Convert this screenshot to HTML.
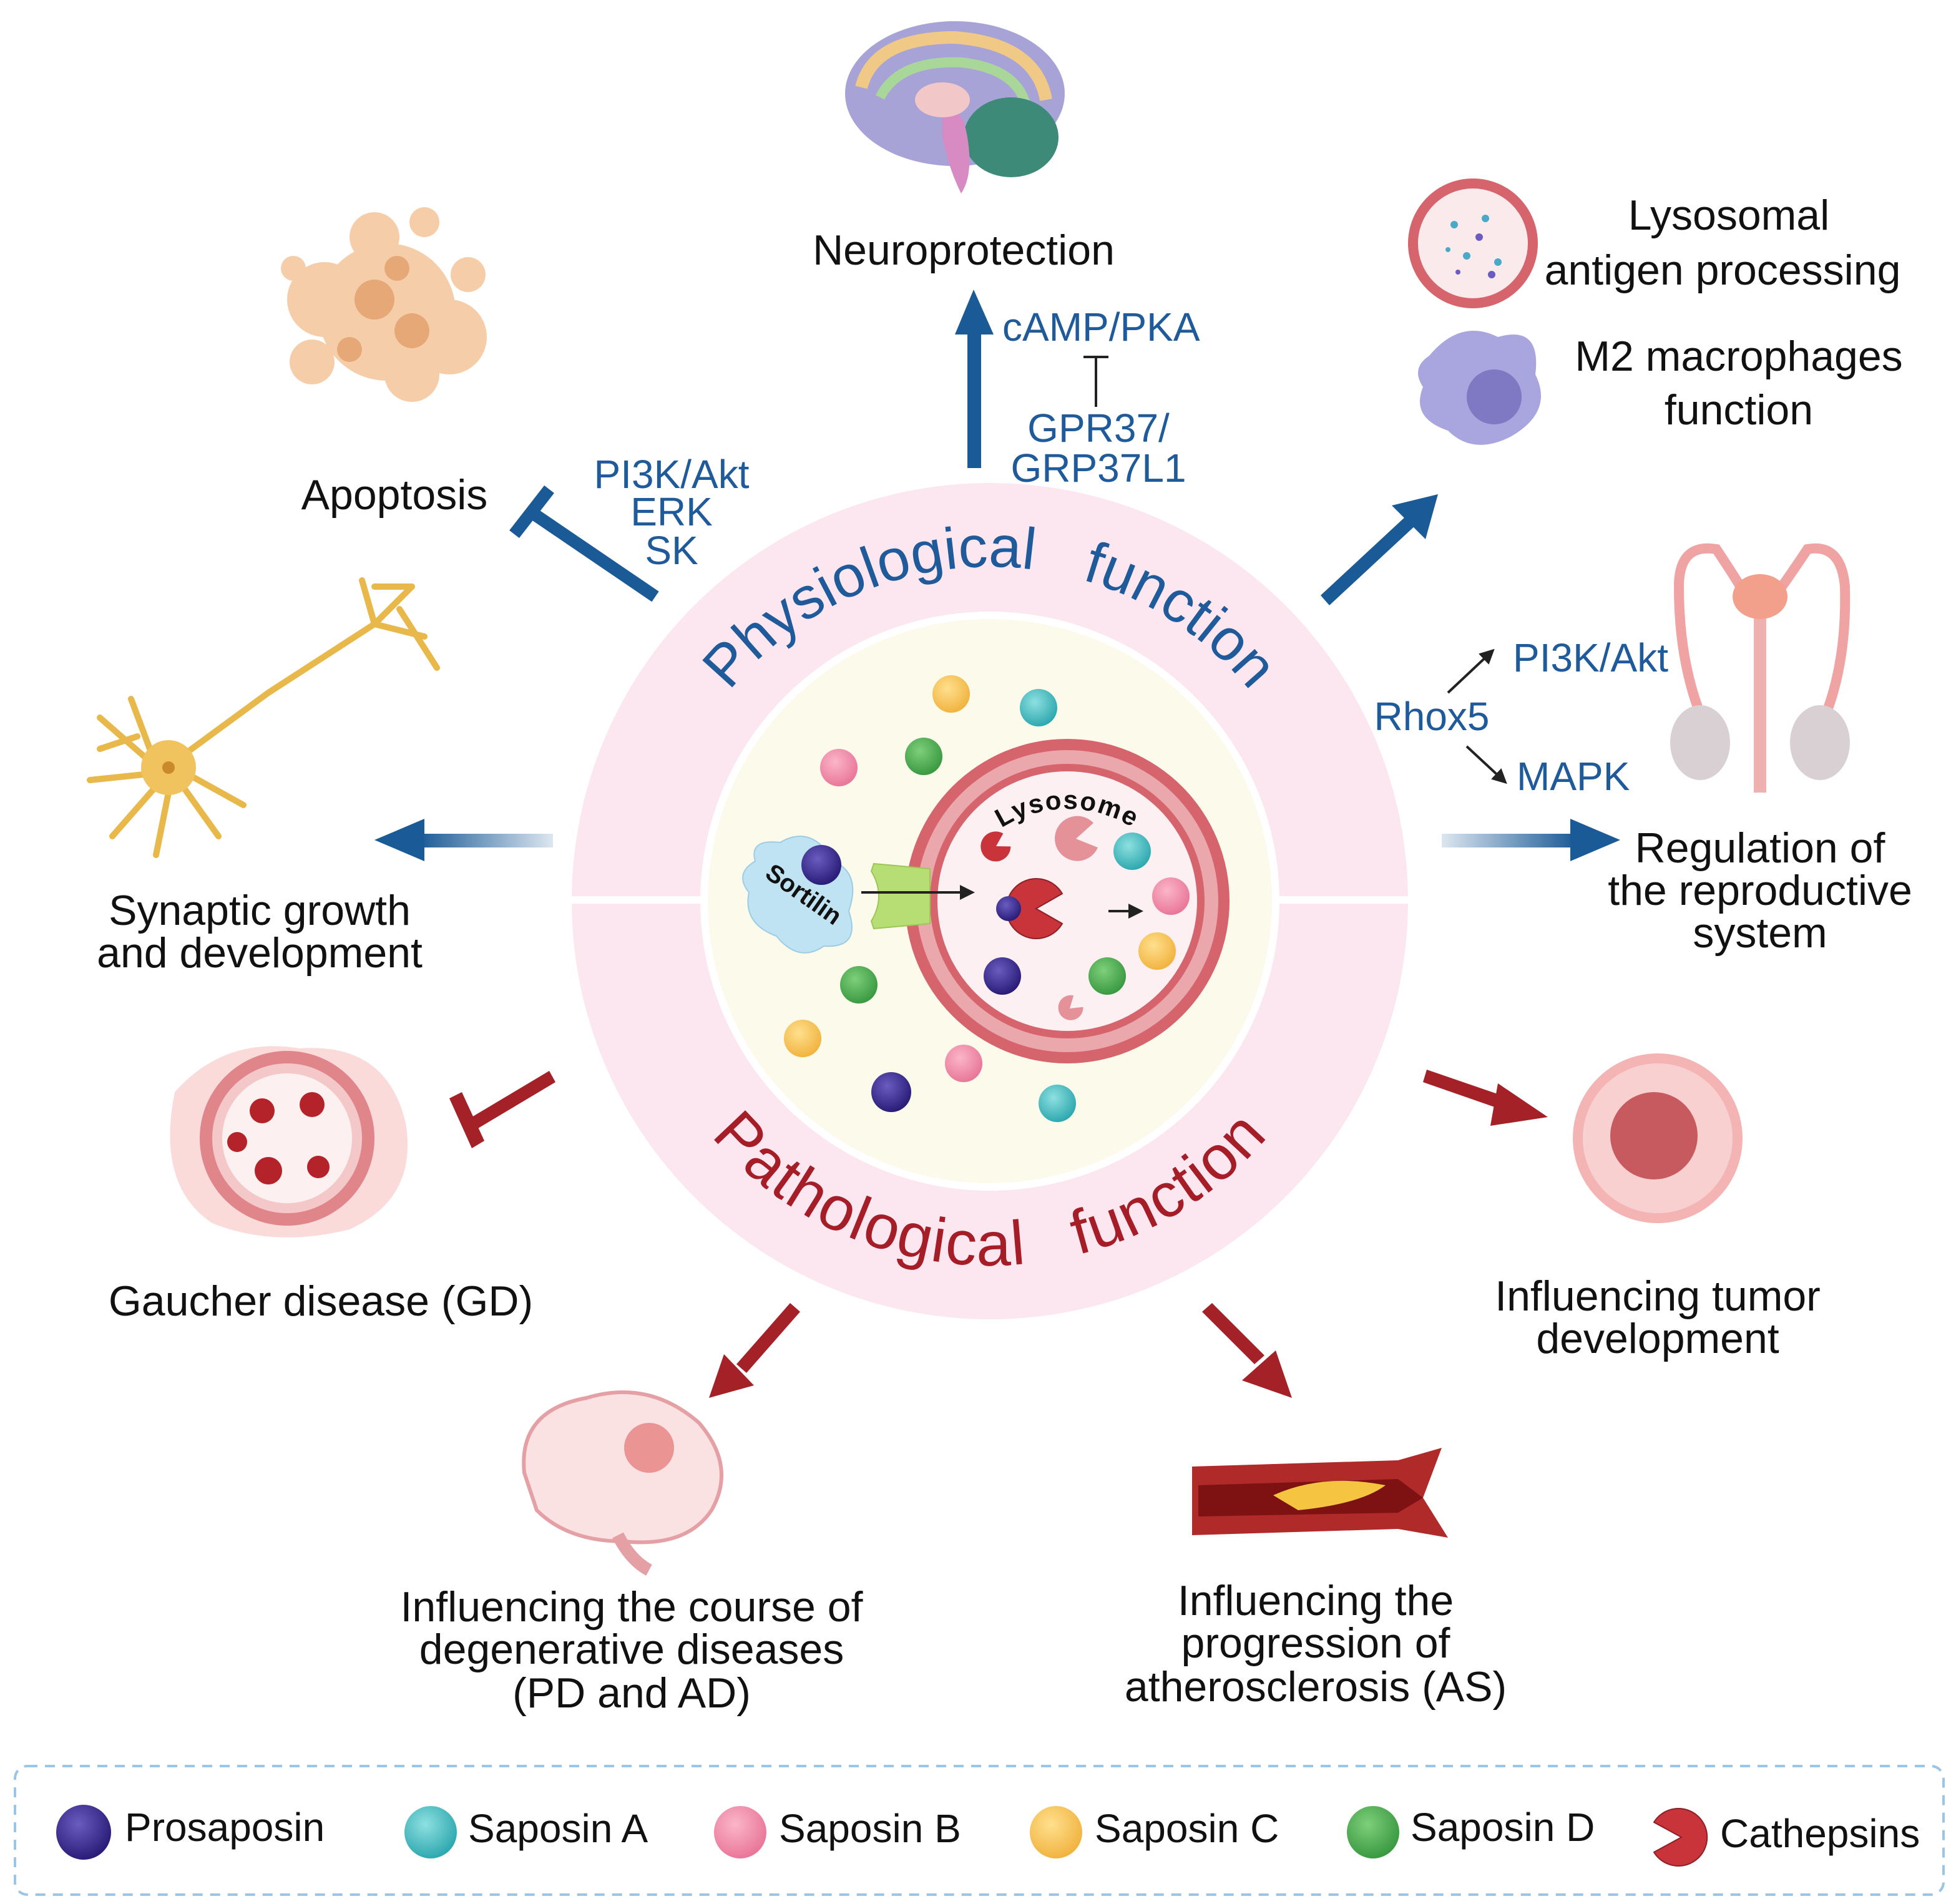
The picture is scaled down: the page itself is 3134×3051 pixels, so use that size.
<!DOCTYPE html>
<html><head><meta charset="utf-8"><style>
html,body{margin:0;padding:0;background:#fff;}
svg{display:block;}
text{font-family:"Liberation Sans",sans-serif;}
</style></head><body>
<svg width="3134" height="3051" viewBox="0 0 1567 1525.5" xmlns="http://www.w3.org/2000/svg">
<defs>
<radialGradient id="gP" cx="40%" cy="35%" r="65%"><stop offset="0" stop-color="#6a5cc0"/><stop offset="1" stop-color="#2a1d78"/></radialGradient>
<radialGradient id="gT" cx="40%" cy="35%" r="65%"><stop offset="0" stop-color="#8ee0e0"/><stop offset="1" stop-color="#2fa9b0"/></radialGradient>
<radialGradient id="gK" cx="40%" cy="35%" r="65%"><stop offset="0" stop-color="#fbb6c8"/><stop offset="1" stop-color="#e9779a"/></radialGradient>
<radialGradient id="gY" cx="40%" cy="35%" r="65%"><stop offset="0" stop-color="#ffe08e"/><stop offset="1" stop-color="#f1b441"/></radialGradient>
<radialGradient id="gG" cx="40%" cy="35%" r="65%"><stop offset="0" stop-color="#7fcf7a"/><stop offset="1" stop-color="#3a9a42"/></radialGradient>
<linearGradient id="fadeL" x1="0" x2="1"><stop offset="0" stop-color="#1a5a96"/><stop offset="1" stop-color="#1a5a96" stop-opacity="0.15"/></linearGradient>
<linearGradient id="fadeR" x1="1" x2="0"><stop offset="0" stop-color="#1a5a96"/><stop offset="1" stop-color="#1a5a96" stop-opacity="0.15"/></linearGradient>
<path id="arcTop" d="M 525 722 A 268 268 0 0 1 1061 722"/>
<path id="arcBot" d="M 501 722 A 292 292 0 0 0 1085 722"/>
<path id="arcLys" d="M 760 722 A 98 98 0 0 1 950 722"/>
<marker id="ab" markerWidth="6" markerHeight="6" refX="3" refY="3" orient="auto"><path d="M0,0 L6,3 L0,6 z" fill="#222"/></marker>
</defs>

<circle cx="793" cy="722" r="335" fill="#fce6f0"/>
<circle cx="793" cy="722" r="232" fill="#fff" />
<circle cx="793" cy="722" r="226" fill="#fcfaea"/>
<rect x="455" y="718" width="110" height="6" fill="#fff"/>
<rect x="1021" y="718" width="110" height="6" fill="#fff"/>

<text font-size="47" fill="#1f5a9a" word-spacing="26"><textPath href="#arcTop" startOffset="50%" text-anchor="middle">Physiological function</textPath></text>
<text font-size="50" fill="#a51d26" word-spacing="26" letter-spacing="1"><textPath href="#arcBot" startOffset="50%" text-anchor="middle">Pathological function</textPath></text>

<circle cx="855" cy="722" r="130" fill="#d5646c"/>
<circle cx="855" cy="722" r="121" fill="#eaa8ad"/>
<circle cx="855" cy="722" r="110" fill="#d5646c"/>
<circle cx="855" cy="722" r="104" fill="#fcf0f2"/>
<text font-size="21" font-weight="bold" fill="#111" letter-spacing="1"><textPath href="#arcLys" startOffset="50%" text-anchor="middle">Lysosome</textPath></text>

<path d="M605 690 Q600 672 625 675 Q650 660 668 690 Q690 700 680 730 Q690 760 660 758 Q640 772 622 750 Q595 740 600 715 Q588 700 605 690z" fill="#bfe3f2" stroke="#9ccde4" stroke-width="1"/>
<text x="640" y="722" font-size="20" font-weight="bold" fill="#111" transform="rotate(35 640 722)" text-anchor="middle">Sortilin</text>
<circle cx="658" cy="693" r="16" fill="url(#gP)"/>
<path d="M698 698 L700 692 L745 696 L745 715 L745 740 L700 744 L698 738 Q710 718 698 698z" fill="#b7de74" stroke="#9cc756" stroke-width="1"/>
<line x1="690" y1="715" x2="775" y2="715" stroke="#222" stroke-width="2" marker-end="url(#ab)"/>
<line x1="888" y1="730" x2="910" y2="730" stroke="#222" stroke-width="2" marker-end="url(#ab)"/>

<g>
<circle cx="762" cy="556" r="15" fill="url(#gY)"/>
<circle cx="832" cy="567" r="15" fill="url(#gT)"/>
<circle cx="672" cy="615" r="15" fill="url(#gK)"/>
<circle cx="740" cy="606" r="15" fill="url(#gG)"/>
<circle cx="907" cy="682" r="15" fill="url(#gT)"/>
<circle cx="938" cy="718" r="15" fill="url(#gK)"/>
<circle cx="927" cy="762" r="15" fill="url(#gY)"/>
<circle cx="887" cy="782" r="15" fill="url(#gG)"/>
<circle cx="803" cy="782" r="15" fill="url(#gP)"/>
<circle cx="688" cy="789" r="15" fill="url(#gG)"/>
<circle cx="643" cy="832" r="15" fill="url(#gY)"/>
<circle cx="772" cy="852" r="15" fill="url(#gK)"/>
<circle cx="714" cy="875" r="16" fill="url(#gP)"/>
<circle cx="847" cy="884" r="15" fill="url(#gT)"/>
</g>
<path d="M830 728 L851 716 A24 24 0 1 0 851 740 Z" fill="#c9343b" stroke="#8e1f25" stroke-width="1"/>
<circle cx="808" cy="728" r="10" fill="url(#gP)"/>
<path d="M798 678 L808 672 A12 12 0 1 0 808 684 Z" fill="#c9343b" transform="rotate(-30 798 678)"/>
<path d="M862 672 L878 662 A18 18 0 1 0 878 682 Z" fill="#e49198" transform="rotate(-10 862 672)"/>
<path d="M857 808 L866 802 A10 10 0 1 0 866 814 Z" fill="#e49198" transform="rotate(-40 857 808)"/>

<g fill="#1a5a96" stroke="none">
<rect x="775" y="262" width="11" height="113" fill="#1a5a96"/>
<path d="M765 268 L780 232 L796 268 Z"/>
<path d="M1058 477 L1128 412 L1135 420 L1065 485 Z"/>
<path d="M1115 405 L1152 396 L1142 432 Z"/>
<rect x="335" y="668" width="108" height="11" fill="url(#fadeL)"/>
<path d="M340 656 L300 673 L340 690 Z"/>
<rect x="1155" y="668" width="108" height="11" fill="url(#fadeR)"/>
<path d="M1258 656 L1298 673 L1258 690 Z"/>
</g>
<line x1="525" y1="478" x2="428" y2="412" stroke="#1a5a96" stroke-width="10"/>
<line x1="412" y1="428" x2="440" y2="392" stroke="#1a5a96" stroke-width="10"/>
<line x1="878" y1="326" x2="878" y2="286" stroke="#222" stroke-width="2"/>
<line x1="868" y1="286" x2="888" y2="286" stroke="#222" stroke-width="2"/>
<line x1="1160" y1="555" x2="1193" y2="524" stroke="#222" stroke-width="2" marker-end="url(#ab)"/>
<line x1="1175" y1="598" x2="1203" y2="624" stroke="#222" stroke-width="2" marker-end="url(#ab)"/>

<g fill="#a52128">
<path d="M440 858 L378 895 L383 904 L445 867 Z"/>
<path d="M360 880 L378 920 L388 914 L370 875 Z"/>
<path d="M1143 857 L1210 880 L1206 890 L1140 867 Z"/>
<path d="M1200 868 L1240 895 L1194 902 Z"/>
<path d="M633 1044 L590 1093 L598 1100 L641 1051 Z"/>
<path d="M580 1085 L568 1120 L604 1110 Z"/>
<path d="M963 1051 L1005 1093 L1013 1086 L971 1044 Z"/>
<path d="M995 1106 L1035 1120 L1022 1082 Z"/>
</g>

<ellipse cx="765" cy="75" rx="88" ry="58" fill="#a7a3d6"/>
<path d="M690 70 Q700 30 765 30 Q830 35 838 80" fill="none" stroke="#f0c986" stroke-width="10"/>
<path d="M705 78 Q720 48 770 50 Q815 55 822 85" fill="none" stroke="#a9d79a" stroke-width="8"/>
<ellipse cx="810" cy="110" rx="38" ry="32" fill="#3d8a78"/>
<path d="M755 90 Q770 80 775 110 Q780 140 770 155 Q760 135 755 110z" fill="#d78bc2"/>
<ellipse cx="755" cy="80" rx="22" ry="14" fill="#f2c7c7"/>
<g fill="#f4c9a0" opacity="0.9">
<circle cx="310" cy="250" r="55"/><circle cx="260" cy="240" r="30"/><circle cx="360" cy="270" r="30"/>
<circle cx="300" cy="190" r="20"/><circle cx="330" cy="300" r="22"/><circle cx="250" cy="290" r="18"/>
<circle cx="375" cy="220" r="14"/><circle cx="235" cy="215" r="10"/><circle cx="340" cy="178" r="12"/>
</g>
<g fill="#e7a877"><circle cx="300" cy="240" r="16"/><circle cx="330" cy="265" r="14"/><circle cx="280" cy="280" r="10"/><circle cx="318" cy="215" r="10"/></g>
<g stroke="#e9b84a" stroke-width="5" fill="none" stroke-linecap="round">
<path d="M140 610 L215 555 L300 500 L330 470"/>
<path d="M300 500 L340 510 M320 488 L350 535 M300 470 L330 470 M300 500 L290 465"/>
<path d="M120 610 L80 575 M120 620 L72 625 M125 630 L90 670 M135 635 L125 685 M145 628 L175 670 M150 620 L195 645 M120 600 L105 560 M110 590 L80 600"/>
</g>
<circle cx="135" cy="615" r="22" fill="#f0c35e"/>
<circle cx="135" cy="615" r="5" fill="#c88a2a"/>
<circle cx="1180" cy="195" r="52" fill="#d5646c"/>
<circle cx="1180" cy="195" r="44" fill="#fbeaec"/>
<g fill="#4aa9c9"><circle cx="1165" cy="180" r="3"/><circle cx="1190" cy="175" r="3"/><circle cx="1175" cy="205" r="3"/><circle cx="1200" cy="210" r="3"/><circle cx="1160" cy="200" r="2"/></g>
<g fill="#6a5cc0"><circle cx="1185" cy="190" r="3"/><circle cx="1195" cy="220" r="3"/><circle cx="1168" cy="218" r="2"/></g>
<path d="M1145 285 Q1170 255 1200 270 Q1235 260 1230 300 Q1245 330 1210 350 Q1180 365 1160 345 Q1130 335 1140 310 Q1130 295 1145 285z" fill="#a9a6df"/>
<circle cx="1197" cy="318" r="22" fill="#7f79c4"/>
<g fill="none" stroke="#efa3a3" stroke-width="8">
<path d="M1370 590 Q1345 540 1345 470 Q1345 435 1375 440 Q1395 470 1400 480"/>
<path d="M1455 590 Q1480 540 1478 470 Q1475 435 1448 440 Q1428 470 1420 480"/>
</g>
<rect x="1405" y="480" width="10" height="155" fill="#efb0b0"/>
<ellipse cx="1410" cy="478" rx="22" ry="18" fill="#f2a08c"/>
<ellipse cx="1362" cy="595" rx="24" ry="30" fill="#d9d0d4"/>
<ellipse cx="1458" cy="595" rx="24" ry="30" fill="#d9d0d4"/>
<path d="M140 875 Q180 830 240 840 Q310 835 325 900 Q335 960 280 985 Q220 1000 170 980 Q125 950 140 875z" fill="#fbdada"/>
<circle cx="230" cy="912" r="70" fill="#e08589"/>
<circle cx="230" cy="912" r="60" fill="#f4c7c8"/>
<circle cx="230" cy="912" r="52" fill="#fdf0f0"/>
<g fill="#b5232a"><circle cx="210" cy="890" r="10"/><circle cx="250" cy="885" r="10"/><circle cx="215" cy="938" r="11"/><circle cx="255" cy="935" r="9"/><circle cx="190" cy="915" r="8"/></g>
<circle cx="1328" cy="912" r="68" fill="#f4b4b4"/>
<circle cx="1328" cy="912" r="60" fill="#f8d0d0"/>
<circle cx="1325" cy="910" r="35" fill="#c75a5e"/>
<path d="M420 1180 Q415 1130 470 1120 Q520 1105 560 1140 Q590 1175 570 1210 Q550 1240 500 1235 Q455 1235 430 1210z" fill="#fae2e2" stroke="#e4a0a4" stroke-width="3"/>
<circle cx="520" cy="1160" r="20" fill="#e06060" opacity="0.6"/>
<path d="M495 1230 Q505 1250 520 1258" stroke="#e4a0a4" stroke-width="10" fill="none"/>
<path d="M955 1175 L1120 1170 L1155 1160 L1140 1200 L1160 1232 L1120 1225 L955 1230z" fill="#b02a2a"/>
<path d="M960 1190 L1120 1185 L1140 1200 L1120 1212 L960 1215z" fill="#7e1212"/>
<path d="M1020 1198 Q1060 1180 1110 1190 Q1090 1205 1040 1210z" fill="#f5c542"/>

<g font-size="34" fill="#111" text-anchor="middle">
<text x="772" y="212">Neuroprotection</text>
<text x="316" y="408">Apoptosis</text>
<text x="1385" y="184">Lysosomal</text>
<text x="1380" y="228">antigen processing</text>
<text x="1393" y="297">M2 macrophages</text>
<text x="1393" y="340">function</text>
<text x="1410" y="691">Regulation of</text>
<text x="1410" y="725">the reproductive</text>
<text x="1410" y="759">system</text>
<text x="208" y="741">Synaptic growth</text>
<text x="208" y="775">and development</text>
<text x="257" y="1054">Gaucher disease (GD)</text>
<text x="1328" y="1050">Influencing tumor</text>
<text x="1328" y="1084">development</text>
<text x="506" y="1299">Influencing the course of</text>
<text x="506" y="1333">degenerative diseases</text>
<text x="506" y="1368">(PD and AD)</text>
<text x="1054" y="1294">Influencing the</text>
<text x="1054" y="1328">progression of</text>
<text x="1054" y="1363">atherosclerosis (AS)</text>
</g>
<g font-size="32" fill="#1f5a9a">
<text x="803" y="273">cAMP/PKA</text>
<text x="880" y="354" text-anchor="middle">GPR37/</text>
<text x="880" y="386" text-anchor="middle">GRP37L1</text>
<text x="538" y="391" text-anchor="middle">PI3K/Akt</text>
<text x="538" y="421" text-anchor="middle">ERK</text>
<text x="538" y="452" text-anchor="middle">SK</text>
<text x="1147" y="585" text-anchor="middle">Rhox5</text>
<text x="1212" y="538">PI3K/Akt</text>
<text x="1215" y="633">MAPK</text>
</g>

<rect x="12" y="1415" width="1545" height="103" rx="10" fill="none" stroke="#9cc4e4" stroke-width="2" stroke-dasharray="8 6"/>
<circle cx="67" cy="1468" r="22" fill="url(#gP)"/>
<circle cx="345" cy="1468" r="21" fill="url(#gT)"/>
<circle cx="593" cy="1468" r="21" fill="url(#gK)"/>
<circle cx="846" cy="1468" r="21" fill="url(#gY)"/>
<circle cx="1100" cy="1468" r="21" fill="url(#gG)"/>
<path d="M1347 1472 L1325 1460 A23 23 0 1 1 1325 1484 Z" fill="#c9343b" stroke="#8e1f25" stroke-width="1"/>
<g font-size="32" fill="#111">
<text x="100" y="1475">Prosaposin</text>
<text x="375" y="1476">Saposin A</text>
<text x="624" y="1476">Saposin B</text>
<text x="877" y="1476">Saposin C</text>
<text x="1130" y="1475">Saposin D</text>
<text x="1378" y="1480">Cathepsins</text>
</g>
</svg>
</body></html>
